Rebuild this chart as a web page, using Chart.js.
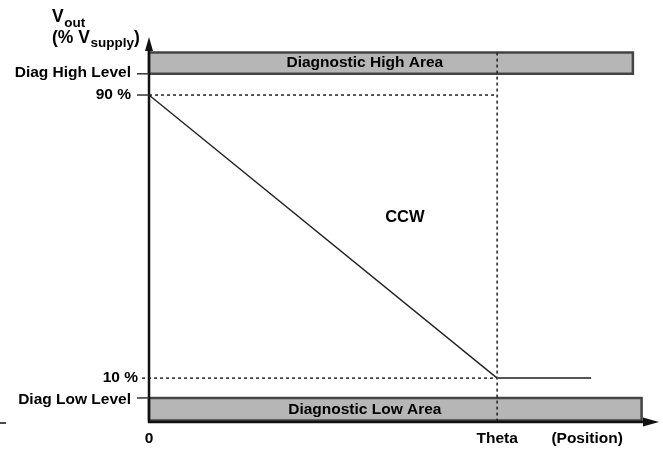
<!DOCTYPE html>
<html>
<head>
<meta charset="utf-8">
<script src="https://cdn.jsdelivr.net/npm/chart.js@4/dist/chart.umd.min.js"></script>
<style>
html,body{margin:0;padding:0;background:#fff;}
#wrap{width:663px;height:449px;position:relative;}
</style>
</head>
<body>
<div id="wrap"><canvas id="c"></canvas></div>
<script>
// ---- data (position axis: 0..Theta=100; output axis in % of supply) ----
const xTickLabels = ['0', 'Theta', '(Position)'];
const xTickValues = [0, 100, 127];
const yTickLabels = ['Diag High Level', '90 %', '10 %', 'Diag Low Level'];
const yTickValues = [96, 90, 10, 4.4];
const curveX = [0, 100, 127];
const curveY = [90, 10, 10];
const highBand = { label: 'Diagnostic High Area', from: 96, to: 102, end: 139 };
const lowBand = { label: 'Diagnostic Low Area', from: -2, to: 4.4, end: 141.5 };
const thetaValue = 100;
const regionLabel = 'CCW';

const FONT = '"Liberation Sans", Arial, Helvetica, sans-serif';

function bandPoly(b) {
  return [
    { x: 0, y: b.from }, { x: b.end, y: b.from }, { x: b.end, y: b.to },
    { x: 0, y: b.to }, { x: 0, y: b.from }
  ];
}

const curve = curveX.map((x, i) => ({ x: x, y: curveY[i] }));

const overlay = {
  id: 'overlay',
  afterDatasetsDraw(chart) {
    const ctx = chart.ctx;
    const xs = chart.scales.x, ys = chart.scales.y;
    const px = v => xs.getPixelForValue(v);
    const py = v => ys.getPixelForValue(v);
    const x0 = px(0), yb = py(ys.min), yt = py(ys.max), xr = px(xs.max);
    ctx.save();
    // axes
    ctx.strokeStyle = '#111';
    ctx.lineWidth = 2.5;
    ctx.beginPath();
    ctx.moveTo(x0, yt + 8); ctx.lineTo(x0, yb + 1);
    ctx.moveTo(x0 - 1, yb); ctx.lineTo(xr - 10, yb);
    ctx.stroke();
    ctx.fillStyle = '#111';
    // y arrow
    ctx.beginPath();
    ctx.moveTo(x0, yt); ctx.lineTo(x0 - 4, yt + 14); ctx.lineTo(x0 + 4, yt + 14); ctx.closePath(); ctx.fill();
    // x arrow
    ctx.beginPath();
    ctx.moveTo(xr, yb); ctx.lineTo(xr - 16, yb - 4.5); ctx.lineTo(xr - 16, yb + 4.5); ctx.closePath(); ctx.fill();
    // left stub
    ctx.lineWidth = 1.5;
    ctx.beginPath(); ctx.moveTo(0, yb + 1); ctx.lineTo(6, yb + 1); ctx.stroke();

    // solid ticks
    ctx.strokeStyle = '#333';
    ctx.lineWidth = 1.5;
    [0, 1, 3].forEach(i => {
      const y = py(yTickValues[i]);
      ctx.beginPath(); ctx.moveTo(x0 - 12, y); ctx.lineTo(x0, y); ctx.stroke();
    });

    // y labels
    ctx.fillStyle = '#000';
    ctx.font = 'bold 15.5px ' + FONT;
    ctx.textAlign = 'right';
    ctx.textBaseline = 'middle';
    const rightEdges = [131, 131, 138, 131];
    const dy = [-1, 0, 0, 2];
    yTickLabels.forEach((t, i) => {
      ctx.fillText(t, rightEdges[i], py(yTickValues[i]) + dy[i]);
    });

    // x labels
    ctx.textAlign = 'center';
    ctx.textBaseline = 'alphabetic';
    xTickLabels.forEach((t, i) => {
      ctx.fillText(t, px(xTickValues[i]) + (i === 2 ? -4 : 0), yb + 21);
    });

    // band labels
    ctx.textBaseline = 'middle';
    ctx.fillText(highBand.label, px(62), py((highBand.from + highBand.to) / 2));
    ctx.fillText(lowBand.label, px(62), py((lowBand.from + lowBand.to) / 2));

    // region label
    ctx.font = 'bold 16.5px ' + FONT;
    ctx.fillText(regionLabel, px(73.5), py(55.5));

    // axis title V_out (% V_supply)
    ctx.textAlign = 'left';
    ctx.textBaseline = 'alphabetic';
    const tx = 52;
    ctx.font = 'bold 17.5px ' + FONT;
    ctx.fillText('V', tx, 22);
    let wv = ctx.measureText('V').width;
    ctx.font = 'bold 13.5px ' + FONT;
    ctx.fillText('out', tx + wv + 0.5, 27);
    ctx.font = 'bold 17.5px ' + FONT;
    ctx.fillText('(% V', tx, 43);
    let w = ctx.measureText('(% V').width;
    ctx.font = 'bold 13.5px ' + FONT;
    ctx.fillText('supply', tx + w + 0.5, 47);
    let w2 = ctx.measureText('supply').width;
    ctx.font = 'bold 17.5px ' + FONT;
    ctx.fillText(')', tx + w + w2 + 0.5, 43);
    ctx.restore();
  }
};

new Chart(document.getElementById('c'), {
  type: 'scatter',
  data: {
    datasets: [
      { label: 'theta guide', data: [{ x: thetaValue, y: highBand.to }, { x: thetaValue, y: -2.4 }],
        showLine: true, borderColor: '#222', borderWidth: 1.5, borderDash: [3, 3], pointRadius: 0, order: 1, clip: false },
      { label: '90 guide', data: [{ x: 0, y: curveY[0] }, { x: thetaValue, y: curveY[0] }],
        showLine: true, borderColor: '#222', borderWidth: 1.5, borderDash: [3, 3], pointRadius: 0, order: 1, clip: false },
      { label: '10 guide', data: [{ x: -2, y: curveY[1] }, { x: thetaValue, y: curveY[1] }],
        showLine: true, borderColor: '#222', borderWidth: 1.5, borderDash: [3, 3], pointRadius: 0, order: 1, clip: false },
      { label: 'output', data: curve, showLine: true, borderColor: '#222', borderWidth: 1.4,
        pointRadius: 0, tension: 0, order: 0, clip: false,
        segment: { borderColor: c => c.p0DataIndex === 1 ? '#555' : '#222', borderWidth: c => c.p0DataIndex === 1 ? 2 : 1.4 } },
      { label: highBand.label, data: bandPoly(highBand), showLine: true, fill: 'shape',
        backgroundColor: '#b6b6b6', borderColor: '#444', borderWidth: 2.5, pointRadius: 0, order: 5, clip: false },
      { label: lowBand.label, data: bandPoly(lowBand), showLine: true, fill: 'shape',
        backgroundColor: '#b6b6b6', borderColor: '#444', borderWidth: 2.5, pointRadius: 0, order: 5, clip: false }
    ]
  },
  options: {
    responsive: true,
    maintainAspectRatio: false,
    animation: false,
    events: [],
    layout: { padding: { left: 149, right: 4, top: 37, bottom: 27 } },
    plugins: { legend: { display: false }, tooltip: { enabled: false } },
    scales: {
      x: { type: 'linear', min: 0, max: 146.5, display: false },
      y: { type: 'linear', min: -2.4, max: 106.4, display: false }
    }
  },
  plugins: [overlay]
});
</script>
</body>
</html>
